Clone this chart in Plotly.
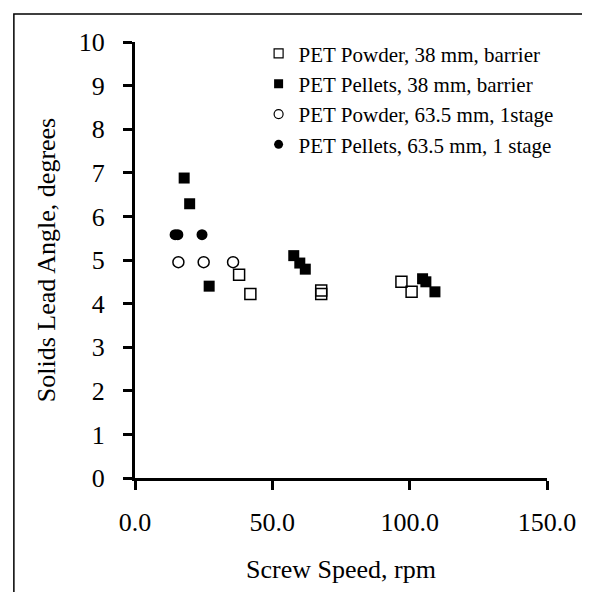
import plotly.graph_objects as go

# Data
powder38_x = [37.9, 42.0, 67.8, 67.8, 97.0, 100.7]
powder38_y = [4.66, 4.22, 4.22, 4.30, 4.50, 4.27]

pellets38_x = [17.9, 19.9, 27.0, 57.8, 60.0, 62.0, 104.7, 105.9, 109.2]
pellets38_y = [6.88, 6.29, 4.40, 5.10, 4.93, 4.79, 4.57, 4.50, 4.27]

powder635_x = [15.8, 25.0, 35.7]
powder635_y = [4.95, 4.95, 4.95]

pellets635_x = [14.6, 15.6, 24.4]
pellets635_y = [5.58, 5.58, 5.58]

names = ["PET Powder, 38 mm, barrier", "PET Pellets, 38 mm, barrier",
         "PET Powder, 63.5 mm, 1stage", "PET Pellets, 63.5 mm, 1 stage"]

x_ticks = [0, 50, 100, 150]
x_ticklabels = ["0.0", "50.0", "100.0", "150.0"]
y_ticks = list(range(0, 11))

FONT = "Liberation Serif, Times New Roman, DejaVu Serif, serif"

series = [
    (powder38_x, powder38_y, "square-open", True),
    (pellets38_x, pellets38_y, "square", False),
    (powder635_x, powder635_y, "circle-open", True),
    (pellets635_x, pellets635_y, "circle", False),
]

fig = go.Figure()
for (xs, ys, sym, is_open), name in zip(series, names):
    mk = dict(symbol=sym, size=11, color="black")
    if is_open:
        mk["line"] = dict(width=1.5, color="black")
    fig.add_trace(go.Scatter(x=xs, y=ys, mode="markers", name=name,
                             marker=mk, showlegend=False))
# legend entries (smaller symbols, as in the reference legend)
for (xs, ys, sym, is_open), name in zip(series, names):
    mk = dict(symbol=sym, size=9, color="black")
    if is_open:
        mk["line"] = dict(width=1.2, color="black")
    fig.add_trace(go.Scatter(x=[None], y=[None], mode="markers", name=name,
                             marker=mk, showlegend=True))

fig.update_layout(
    width=590, height=592,
    margin=dict(l=127, r=51, t=34, b=122),
    paper_bgcolor="white", plot_bgcolor="white",
    font=dict(family=FONT, color="black", size=26),
    showlegend=True,
    legend=dict(x=0.30, y=1.02, xanchor="left", yanchor="top",
                font=dict(family=FONT, size=21, color="black"),
                bgcolor="rgba(0,0,0,0)", tracegroupgap=0, itemwidth=30),
    xaxis=dict(range=[0, 150], tickvals=x_ticks, ticktext=x_ticklabels,
               showgrid=False, zeroline=False, showline=True, linecolor="black",
               linewidth=3, ticks="outside", ticklen=9, tickwidth=3, tickcolor="black",
               ticklabelstandoff=10,
               tickfont=dict(family=FONT, size=26, color="black"),
               title=dict(text="Screw Speed, rpm", font=dict(family=FONT, size=26, color="black"),
                          standoff=24)),
    yaxis=dict(range=[0, 10], tickvals=y_ticks,
               showgrid=False, zeroline=False, showline=True, linecolor="black",
               linewidth=3, ticks="outside", ticklen=9, tickwidth=3, tickcolor="black",
               ticklabelstandoff=13,
               tickfont=dict(family=FONT, size=26, color="black"),
               title=dict(text="Solids Lead Angle, degrees",
                          font=dict(family=FONT, size=26, color="black"), standoff=16)),
    shapes=[dict(type="rect", xref="paper", yref="paper",
                 x0=-0.294, x1=1.109, y0=-0.268, y1=1.064,
                 line=dict(color="black", width=1.5), fillcolor="rgba(0,0,0,0)")],
)

fig.write_html("out.html")
